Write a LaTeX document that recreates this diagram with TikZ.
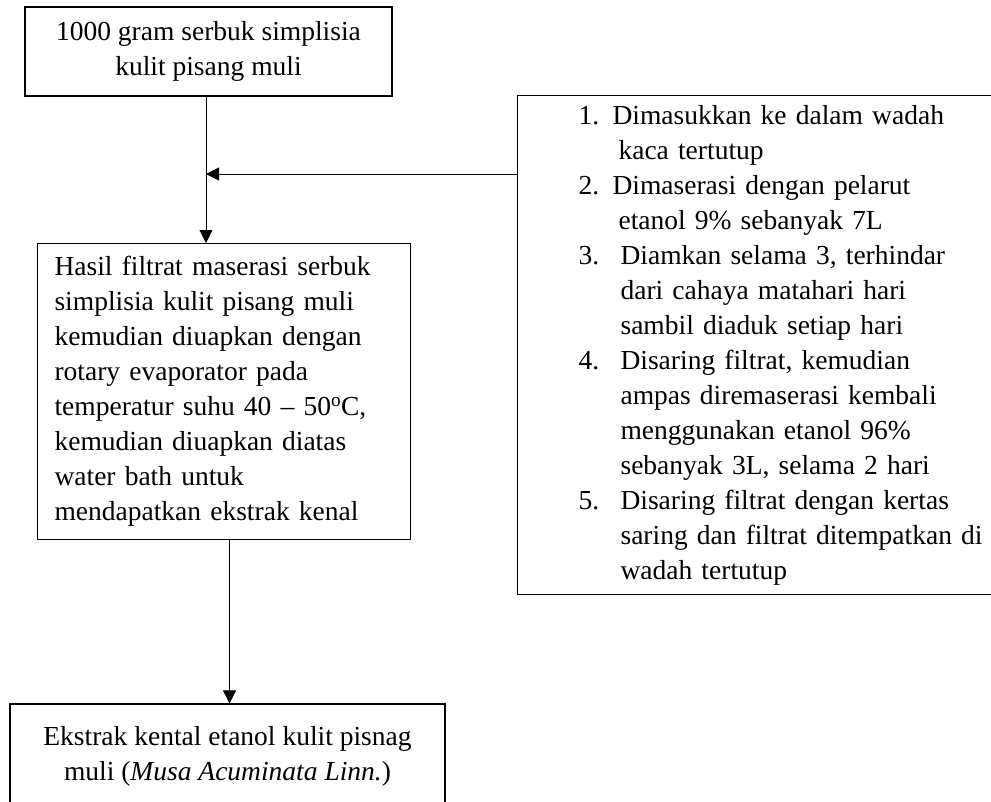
\documentclass[tikz,border=0pt]{standalone}
\usepackage{fontspec}
\setmainfont{Liberation Serif}
\usetikzlibrary{arrows.meta}

\newcommand{\stepno}[2]{\makebox[#1][l]{#2.}}

\begin{document}
\begin{tikzpicture}[x=1pt, y=-1pt,
                    box/.style={draw, line width=1.1pt, font=\fontsize{27.5}{35}\selectfont},
                    arrow/.style={line width=0.8pt, -{Triangle[length=13pt, width=13pt]}}]
  \useasboundingbox (0,0) rectangle (991,801);
  \node[box, minimum width=367pt, minimum height=89pt, align=center] (powder) at (208.5,51.5)
    {1000 gram serbuk simplisia\\kulit pisang muli};
  \node[box, anchor=north west, inner xsep=61pt, text width=420pt,
        minimum height=499pt, align=left] (steps) at (517,95)
    {\stepno{34pt}{1}Dimasukkan ke dalam wadah\\
     \hspace*{40pt}kaca tertutup\\
     \stepno{34pt}{2}Dimaserasi dengan pelarut\\
     \hspace*{40pt}etanol 9\% sebanyak 7L\\
     \stepno{42pt}{3}Diamkan selama 3, terhindar\\
     \hspace*{42pt}dari cahaya matahari hari\\
     \hspace*{42pt}sambil diaduk setiap hari\\
     \stepno{42pt}{4}Disaring filtrat, kemudian\\
     \hspace*{42pt}ampas diremaserasi kembali\\
     \hspace*{42pt}menggunakan etanol 96\%\\
     \hspace*{42pt}sebanyak 3L, selama 2 hari\\
     \stepno{42pt}{5}Disaring filtrat dengan kertas\\
     \hspace*{42pt}saring dan filtrat ditempatkan di\\
     \hspace*{42pt}wadah tertutup};
  \node[box, anchor=north west, inner xsep=17pt, text width=339pt,
        minimum height=296pt, align=left] (filtrate) at (37,243)
    {Hasil filtrat maserasi serbuk\\
     simplisia kulit pisang muli\\
     kemudian diuapkan dengan\\
     rotary evaporator pada\\
     temperatur suhu 40 -- 50\textsuperscript{o}C,\\
     kemudian diuapkan diatas\\
     water bath untuk\\
     mendapatkan ekstrak kenal};
  \node[box, minimum width=435pt, minimum height=104pt, align=center] (extract) at (227.5,756)
    {Ekstrak kental etanol kulit pisnag\\
     muli (\textit{Musa Acuminata Linn.})};
  \coordinate (join) at (206,174);
  \draw[arrow] (powder.south -| join) -- (filtrate.north -| join);
  \draw[arrow] (steps.west |- join) -- (join);
  \draw[arrow] ([xshift=5.5pt]filtrate.south) -- ([xshift=5.5pt]filtrate.south |- extract.north);
\end{tikzpicture}
\end{document}
